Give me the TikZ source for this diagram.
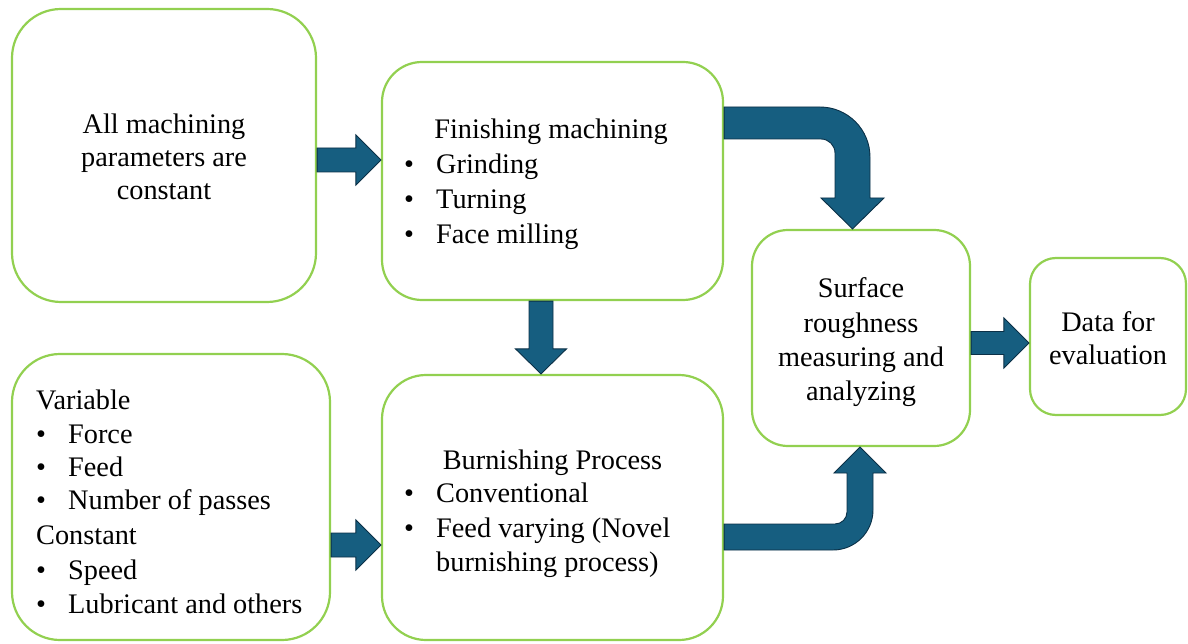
\documentclass[tikz,border=0pt]{standalone}
\usepackage{fontspec}
\setmainfont{Liberation Serif}
\usetikzlibrary{calc}
\definecolor{boxgreen}{HTML}{92D050}
\definecolor{arrfill}{HTML}{165E80}
\definecolor{arrline}{HTML}{0B3047}
\newcommand\harrow[5]{\draw[arr] ($(#1)+(0,-#3)$) -- ($(#2)+(-#5,-#3)$) -- ($(#2)+(-#5,-#4)$) -- (#2) -- ($(#2)+(-#5,#4)$) -- ($(#2)+(-#5,#3)$) -- ($(#1)+(0,#3)$) -- cycle;}
\newcommand\varrow[5]{\draw[arr] ($(#1)+(-#3,0)$) -- ($(#2)+(-#3,-#5)$) -- ($(#2)+(-#4,-#5)$) -- (#2) -- ($(#2)+(#4,-#5)$) -- ($(#2)+(#3,-#5)$) -- ($(#1)+(#3,0)$) -- cycle;}
\newcommand\bul{\makebox[32pt][l]{\textbullet}}
\begin{document}
\begin{tikzpicture}[x=1pt,y=-1pt,
  box/.style={draw=boxgreen, line width=2.2pt, rectangle, inner sep=0pt},
  arr/.style={fill=arrfill, draw=arrline, line width=0.9pt, line join=miter},
  ln/.style={inner sep=0pt, font=\fontsize{28.3}{33}\selectfont, anchor=base},
  lnw/.style={ln, anchor=base west}]
\useasboundingbox (0,0) rectangle (1188,644);
% boxes
\node[box, minimum width=304pt, minimum height=293pt, rounded corners=49pt] (b1) at (164,155.5) {};
\node[box, minimum width=341pt, minimum height=238pt, rounded corners=40pt] (b2) at (552.5,181) {};
\node[box, minimum width=318pt, minimum height=286pt, rounded corners=48pt] (b3) at (171,497) {};
\node[box, minimum width=341pt, minimum height=265pt, rounded corners=44pt] (b4) at (552.5,507.5) {};
\node[box, minimum width=218pt, minimum height=216pt, rounded corners=36pt] (b5) at (861,338) {};
\node[box, minimum width=156pt, minimum height=157pt, rounded corners=26pt] (b6) at (1108,336.5) {};
% texts
\node[ln] (t11) at (164,134) {All machining};
\node[ln] (t12) at (164,167) {parameters are};
\node[ln] (t13) at (164,200) {constant};
\node[ln] (t21) at (551,139) {Finishing machining};
\node[lnw] (t22) at (404,174) {\bul Grinding};
\node[lnw] (t23) at (404,209) {\bul Turning};
\node[lnw] (t24) at (404,244) {\bul Face milling};
\node[lnw] (t31) at (36,409) {Variable};
\node[lnw] (t32) at (36,443) {\bul Force};
\node[lnw] (t33) at (36,476) {\bul Feed};
\node[lnw] (t34) at (36,509) {\bul Number of passes};
\node[lnw] (t35) at (36,544) {Constant};
\node[lnw] (t36) at (36,579) {\bul Speed};
\node[lnw] (t37) at (36,613) {\bul Lubricant and others};
\node[ln] (t41) at (552.5,469) {Burnishing Process};
\node[lnw] (t42) at (404,502) {\bul Conventional};
\node[lnw] (t43) at (404,537) {\bul Feed varying (Novel};
\node[lnw] (t44) at (436,571) {burnishing process)};
\node[ln] (t51) at (861,297) {Surface};
\node[ln] (t52) at (861,332) {roughness};
\node[ln] (t53) at (861,366) {measuring and};
\node[ln] (t54) at (861,400) {analyzing};
\node[ln] (t61) at (1108,331) {Data for};
\node[ln] (t62) at (1108,364) {evaluation};
% straight arrows
\coordinate (a1s) at (b1.east |- 0,160);
\coordinate (a1e) at (b2.west |- 0,160);
\harrow{a1s}{a1e}{12}{25}{25}
\coordinate (a2s) at (541,0 |- b2.south);
\coordinate (a2e) at (541,0 |- b4.north);
\varrow{a2s}{a2e}{12}{25.5}{25}
\coordinate (a5s) at (b5.east |- 0,343);
\coordinate (a5e) at (b6.west |- 0,343);
\harrow{a5s}{a5e}{11.5}{25}{25}
\coordinate (a6s) at (b3.east |- 0,545);
\coordinate (a6e) at (b4.west |- 0,545);
\harrow{a6s}{a6e}{12}{25}{25}
% bent arrows
\coordinate (a3s) at (b2.east |- 0,123);
\coordinate (a3e) at (852.5,0 |- b5.north);
\draw[arr] ($(a3s)+(0,-16)$) -- (820,107) .. controls (847.6,107) and (870,129.4) .. (870,157) -- (870,198) -- (884,198) -- (a3e) -- (821,198) -- (835,198) -- (835,153) .. controls (835,145.3) and (828.7,139) .. (821,139) -- ($(a3s)+(0,16)$) -- cycle;
\coordinate (a4s) at (b4.east |- 0,537);
\coordinate (a4e) at (860,0 |- b5.south);
\draw[arr] ($(a4s)+(0,13)$) -- (833,550) .. controls (855.1,550) and (873,532.1) .. (873,510) -- (873,473) -- (886,473) -- (a4e) -- (834,473) -- (847,473) -- (847,512) .. controls (847,518.6) and (841.6,524) .. (835,524) -- ($(a4s)+(0,-13)$) -- cycle;
\end{tikzpicture}
\end{document}
